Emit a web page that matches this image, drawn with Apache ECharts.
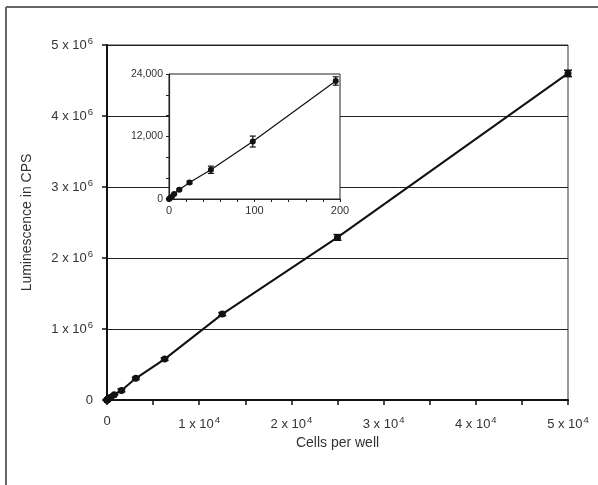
<!DOCTYPE html>
<html>
<head>
<meta charset="utf-8">
<script src="https://cdn.jsdelivr.net/npm/echarts@6/dist/echarts.min.js"></script>
<style>
html,body{margin:0;padding:0;background:#fff;}
#c{width:598px;height:485px;}
</style>
</head>
<body>
<div id="c"></div>
<script>
// ---- data ----
var cells = [0, 1.5, 3, 6, 12, 24, 49, 98, 195, 390, 781, 1562, 3125, 6250, 12500, 25000, 50000];
var luminescence = [0, 170, 400, 960, 1780, 3180, 5610, 11030, 22660, 38000, 75000, 135000, 305000, 576000, 1210000, 2290000, 4600000];
var errors = [0, 60, 90, 130, 200, 260, 700, 1050, 800, 3000, 6000, 20000, 15000, 18000, 22000, 40000, 45000];
var insetCount = 9; // points shown in the inset (0 .. 195 cells)
var mainXTicks = [0, 10000, 20000, 30000, 40000, 50000];
var mainYTicks = [0, 1000000, 2000000, 3000000, 4000000, 5000000];
var insetXLabels = [0, 100, 200];
var insetYLabels = [0, 12000, 24000];

var FONT = 'Liberation Sans, Arial, Helvetica, sans-serif';
var TXT = '#333';

function pairs(n0, n1) {
  var out = [];
  for (var i = n0; i < n1; i++) out.push([cells[i], luminescence[i]]);
  return out;
}
function errData(n0, n1) {
  var out = [];
  for (var i = n0; i < n1; i++) out.push([cells[i], luminescence[i] - errors[i], luminescence[i] + errors[i]]);
  return out;
}
function errRender(capHalf, lw) {
  return function (params, api) {
    var x = api.value(0);
    var lo = api.coord([x, api.value(1)]);
    var hi = api.coord([x, api.value(2)]);
    var st = { stroke: '#111', lineWidth: lw };
    return {
      type: 'group',
      children: [
        { type: 'line', shape: { x1: lo[0], y1: lo[1], x2: hi[0], y2: hi[1] }, style: st },
        { type: 'line', shape: { x1: lo[0] - capHalf, y1: lo[1], x2: lo[0] + capHalf, y2: lo[1] }, style: st },
        { type: 'line', shape: { x1: hi[0] - capHalf, y1: hi[1], x2: hi[0] + capHalf, y2: hi[1] }, style: st }
      ]
    };
  };
}
function sciLabel(exp, ticks, scale) {
  return function (v) {
    if (ticks.indexOf(v) < 0) return '';
    if (v === 0) return '{b|0}';
    return '{b|' + (v / scale) + ' x 10}{s|' + exp + '}';
  };
}
var richSci = {
  b: { fontSize: 13, color: TXT, fontFamily: FONT },
  s: { fontSize: 9.5, color: TXT, fontFamily: FONT, padding: [0, 0, 8, 1] }
};

var chart = echarts.init(document.getElementById('c'), null, { renderer: 'canvas' });
chart.setOption({
  animation: false,
  backgroundColor: '#fff',
  textStyle: { fontFamily: FONT },
  graphic: [
    { type: 'line', shape: { x1: 6, y1: 7, x2: 6, y2: 485 }, style: { stroke: '#666', lineWidth: 2 } },
    { type: 'line', shape: { x1: 6, y1: 7, x2: 598, y2: 7 }, style: { stroke: '#666', lineWidth: 2 } }
  ],
  grid: [
    { left: 107, top: 45, width: 461, height: 355, show: true, borderColor: '#333', borderWidth: 1, backgroundColor: 'transparent' },
    { left: 169, top: 74, width: 171, height: 125, show: true, borderColor: '#222', borderWidth: 1, backgroundColor: '#fff', z: 3 }
  ],
  xAxis: [
    {
      gridIndex: 0, type: 'value', min: 0, max: 50000, interval: 5000,
      name: 'Cells per well', nameLocation: 'middle', nameGap: 36,
      nameTextStyle: { fontSize: 14, color: TXT, fontFamily: FONT },
      axisLine: { lineStyle: { color: '#111', width: 2 } },
      axisTick: { show: true, length: 5, lineStyle: { color: '#111', width: 1.5 } },
      axisLabel: { margin: 15, formatter: sciLabel(4, mainXTicks, 10000), rich: richSci },
      splitLine: { show: false }
    },
    {
      gridIndex: 1, type: 'value', min: 0, max: 200, interval: 20, z: 4,
      axisLine: { lineStyle: { color: '#222', width: 1.2 } },
      axisTick: { show: true, length: 3, lineStyle: { color: '#222', width: 1 } },
      axisLabel: {
        margin: 6, fontSize: 11, color: TXT, fontFamily: FONT,
        formatter: function (v) { return insetXLabels.indexOf(v) >= 0 ? String(v) : ''; }
      },
      splitLine: { show: false }
    }
  ],
  yAxis: [
    {
      gridIndex: 0, type: 'value', min: 0, max: 5000000, interval: 1000000,
      name: 'Luminescence in CPS', nameLocation: 'middle', nameGap: 73,
      nameTextStyle: { fontSize: 14, color: TXT, fontFamily: FONT },
      axisLine: { show: true, lineStyle: { color: '#111', width: 2 } },
      axisTick: { show: true, length: 5, lineStyle: { color: '#111', width: 1.5 } },
      axisLabel: { margin: 14, formatter: sciLabel(6, mainYTicks, 1000000), rich: richSci },
      splitLine: { show: true, lineStyle: { color: '#222', width: 1 } }
    },
    {
      gridIndex: 1, type: 'value', min: 0, max: 24000, interval: 4000, z: 4,
      axisLine: { show: true, lineStyle: { color: '#222', width: 1.2 } },
      axisTick: { show: true, length: 3, lineStyle: { color: '#222', width: 1 } },
      axisLabel: {
        margin: 6, fontSize: 10.5, color: TXT, fontFamily: FONT,
        formatter: function (v) { return insetYLabels.indexOf(v) >= 0 ? v.toLocaleString('en-US') : ''; }
      },
      splitLine: { show: false }
    }
  ],
  series: [
    {
      type: 'line', xAxisIndex: 0, yAxisIndex: 0, data: pairs(0, cells.length),
      symbol: 'circle', symbolSize: 7, showSymbol: true,
      lineStyle: { color: '#111', width: 2 }, itemStyle: { color: '#111' }, z: 2
    },
    {
      type: 'custom', xAxisIndex: 0, yAxisIndex: 0, data: errData(0, cells.length),
      renderItem: errRender(4, 1.5), z: 2
    },
    {
      type: 'line', xAxisIndex: 1, yAxisIndex: 1, data: pairs(0, insetCount),
      symbol: 'circle', symbolSize: 6, showSymbol: true,
      lineStyle: { color: '#111', width: 1.2 }, itemStyle: { color: '#111' }, z: 5
    },
    {
      type: 'custom', xAxisIndex: 1, yAxisIndex: 1, data: errData(0, insetCount),
      renderItem: errRender(3, 1.2), z: 5
    }
  ]
});
</script>
</body>
</html>
